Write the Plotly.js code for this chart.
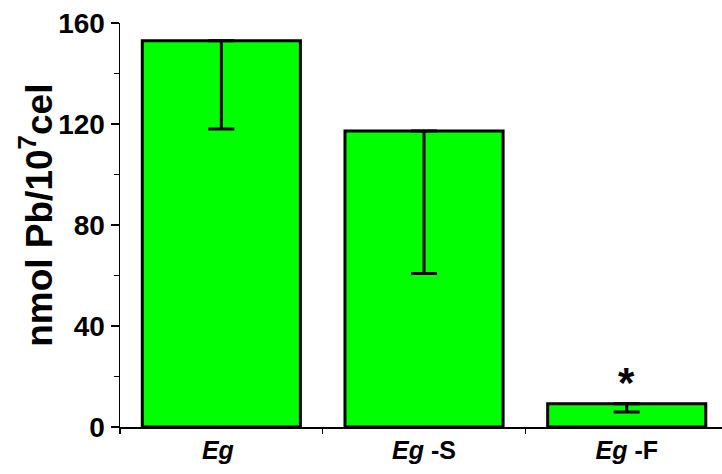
<!DOCTYPE html>
<html>
<head>
<meta charset="utf-8">
<script src="https://cdn.plot.ly/plotly-3.0.1.min.js"></script>
<style>html,body{margin:0;padding:0;background:#fff;}#chart{width:722px;height:474px;}</style>
</head>
<body>
<div id="chart"></div>
<script>
const categories = ['<i>Eg</i> ', '<i>Eg</i> -S', '<i>Eg</i> -F'];
const means = [153.0, 117.2, 9.2];
const errMinus = [35.0, 56.4, 3.3];
const errPlus = [0, 0, 0];
const yTicks = [0, 40, 80, 120, 160];
const sigLabel = '*';
const sigIndex = 2;
const sigY = 17.5;

const FONT = 'Liberation Sans, Arial, sans-serif';

const trace = {
  type: 'bar',
  x: categories,
  y: means,
  width: 0.78,
  marker: { color: '#00ff00', line: { color: '#000000', width: 3 } },
  error_y: {
    type: 'data', symmetric: false,
    array: errPlus, arrayminus: errMinus,
    color: '#000000', thickness: 3, width: 13
  },
  hoverinfo: 'none'
};

const layout = {
  width: 722, height: 474,
  margin: { l: 120, r: 0, t: 23, b: 47 },
  paper_bgcolor: '#ffffff', plot_bgcolor: '#ffffff',
  showlegend: false,
  font: { family: FONT, color: '#000000' },
  xaxis: {
    range: [-0.5, 2.47],
    showline: true, linecolor: '#000000', linewidth: 1.5,
    ticks: 'outside', tickson: 'boundaries', ticklen: 5, tickwidth: 1.5, tickcolor: '#000000',
    tickfont: { family: FONT, size: 25, weight: 'bold', color: '#000000' },
    showgrid: false, zeroline: false, fixedrange: true
  },
  yaxis: {
    range: [0, 160],
    tickvals: yTicks, ticktext: yTicks.map(String),
    showline: true, linecolor: '#000000', linewidth: 1.5,
    ticks: 'outside', ticklen: 8, tickwidth: 1.5, tickcolor: '#000000',
    minor: { dtick: 20, tick0: 0, ticks: 'outside', ticklen: 5, tickwidth: 1.5, tickcolor: '#000000', showgrid: false },
    tickfont: { family: FONT, size: 28, weight: 'bold', color: '#000000' },
    showgrid: false, zeroline: false, fixedrange: true
  },
  annotations: [
    {
      xref: 'paper', yref: 'paper', x: -0.138, y: 0.525,
      xanchor: 'center', yanchor: 'middle', textangle: -90, showarrow: false,
      text: 'nmol Pb/10<sup>7</sup>cel',
      font: { family: FONT, size: 37, weight: 'bold', color: '#000000' }
    },
    {
      xref: 'x', yref: 'y', x: categories[sigIndex], y: sigY,
      xanchor: 'center', yanchor: 'middle', showarrow: false,
      text: sigLabel,
      font: { family: FONT, size: 42, weight: 'bold', color: '#000000' }
    }
  ]
};

Plotly.newPlot('chart', [trace], layout, { staticPlot: true, displayModeBar: false });
</script>
</body>
</html>
